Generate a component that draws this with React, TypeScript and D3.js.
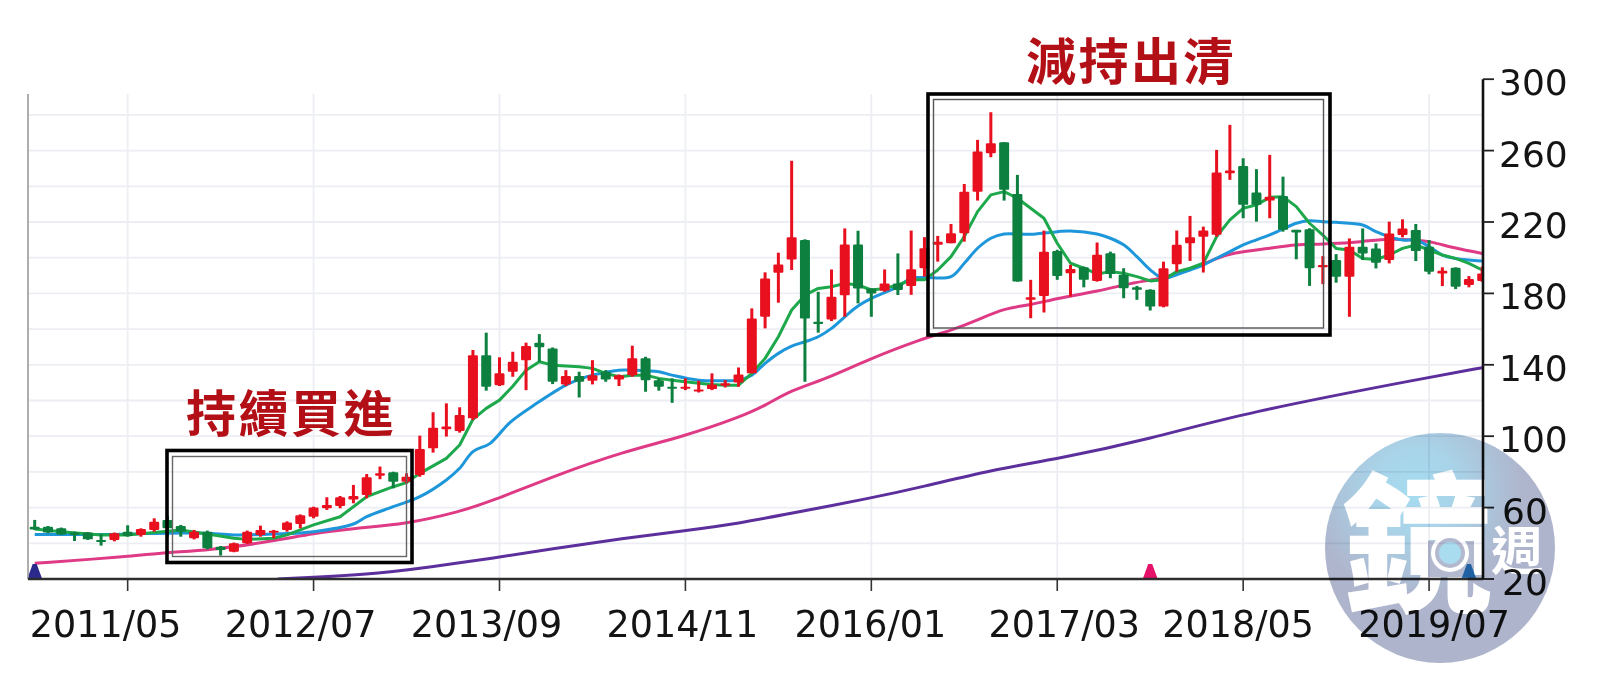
import React from "react";
import * as d3 from "d3";

const opens = [49.3,49.3,48.4,46,46,41.9,41.9,46.5,44.7,47.5,53.1,49.7,42.8,46.5,38.1,35.3,40,44.7,46,47.5,50.8,54.9,59.6,60.9,64.6,67.1,77.9,79.8,74.5,78.3,93.2,103.9,102.9,110,145.4,128.6,136.1,142.6,152.4,149.2,129,133.7,131.1,136.1,131.8,134.2,143.6,131.4,127.7,126.6,125.5,126.4,128.3,130.1,135.2,166.9,191.6,199,209.9,164.1,165.4,179,207.4,182.8,181.5,185.6,184.2,194.1,207.2,208.1,213.7,237,258.5,264.7,235.7,176.4,178.6,203.8,191.3,194.6,187,202.5,190.4,183.4,182,172.6,196.3,208.1,211.8,212.8,247.3,251.4,236.5,232,234.6,215.6,215.9,194.6,198.7,189.3,206.2,205.2,198.7,212.7,215.5,206.2,191.2,194.4,184.7,187];
const closes = [47.8,46,45,44.7,42.2,41.1,45.6,44.1,48,52.1,48.4,46.5,46.5,37.2,36.3,40,46.5,47.5,47.1,51.6,55.7,60,61.5,65.8,66.5,77,79.2,74.5,77.3,92.8,104.8,105.4,111.9,145.4,127.7,135.2,141.7,150.5,149.8,130.5,133.7,130.5,134.2,131.8,134.2,143.6,131.4,127.7,126.6,127.7,126.2,129,129.6,134.6,166,188.4,196.2,211.4,166,162.8,178.1,207.4,182.8,180,185.6,181.9,193.5,205.3,209,213.7,237,259.5,264.1,238,186.6,177.8,203.4,189.8,193.7,187.6,201.6,190.9,182.9,182,172.6,194.1,207.2,211.5,215.2,247.7,248.8,229.6,229.6,234.2,215.6,214.1,194.1,195.9,189.3,206.2,202.4,197.2,213.6,216.4,203.7,192.1,192.7,183.7,188,191.2];
const highs = [53.1,49.7,48.8,46.5,46.3,45.2,46,50.1,48.4,54,55.3,50.3,47.5,47.1,38.5,40.4,47.1,49.9,47.5,52.3,56.2,60.5,65.8,66.5,72.7,78.8,83,80.1,79.2,100.3,113.4,118.4,116.2,148.3,158,144.2,147.3,152.4,157.2,149.7,137,136.1,142.6,137,134.6,150.7,144.5,132.4,132.4,132.4,131.1,135.2,131.4,138.5,171.6,191.8,202.8,254.3,210.3,180.9,193.4,216.4,215.1,182.8,193.4,202.4,215.2,211.5,212.2,218.9,241.3,266,281.5,264.7,246.4,187.6,215.2,204.4,196,195,208.5,203.4,194.1,184.2,182.3,197.8,215.2,223.4,217.4,260.4,274.4,255.7,249.6,257.6,245.4,215.6,216.5,200.9,202,210.8,216.4,208,220.2,221.5,218.9,209.9,194.6,194.6,189.7,195];
const lows = [47.5,45.6,44.7,41.3,41.9,38.7,41.1,43.7,43.7,46.5,43.7,43.7,42.2,36.6,33.1,35,39.6,43.7,42.8,46.5,48.4,54,58.7,59.6,62.4,65.2,75.9,70.8,73.6,77.3,90.8,99.8,102,109,125.5,128.1,133.3,125.8,141.7,129.2,128.1,121.7,129,130.5,128.1,133.3,124.9,125.5,118.7,125.8,124.5,125.8,127.3,127.7,135.2,160.4,174.8,193.1,130.5,158,164.5,166.9,174.4,166.9,180.9,179.1,179.2,189.4,197.8,208.1,209,232,256.3,232,186.6,166.1,169.3,187.6,178.2,183.4,186.6,188.5,177.3,176.4,170.4,172.2,192.2,198.2,191.7,211.8,243.6,222.1,220.2,222.1,214.6,199.1,184.2,185.2,186,166.9,198.7,194,196.8,211.4,198.1,190.7,184.1,182.4,183.4,186.5];

const maShortIdx = [0,2,5,7,9,11,13,15,16,18,19,21,23,25,27,28,29,31,32,33,34,35,36,37,38,39,40,41,42,43,44,45,46,47,48,49,50,51,52,53,54,55,56,57,58,59,60,61,62,63,64,65,66,67,68,69,70,71,72,73,74,75,76,77,78,79,80,81,82,83,84,85,86,87,88,89,90,91,92,93,94,95,96,97,98,99,100,101,102,103,104,105,106,107,108,109];
const maShort = [48,46.5,44.7,44.7,46,47.5,45.2,42.8,42.2,42.8,44.7,50.3,54.9,66.1,71.7,74,79.2,87.6,95.1,109.5,115.6,120.2,128,137,141.7,139.8,139.3,138.9,138,135.2,133.3,134.2,134.2,132.4,131.4,130.5,129.6,129,128.6,128.6,135.2,143.6,155.7,170.7,179,182.8,183.7,185.6,184.7,181.9,182.8,184.7,187.6,187.6,193.1,200.6,211.8,225.8,235.2,237,233.3,227.7,222.1,208.1,196.9,194.1,190.9,192.2,191.3,189.4,187,187.6,192.2,194.1,196.9,211.8,221.2,227.7,229.6,233.8,234.2,228.6,219.3,212.7,205.2,204.3,199.6,199,201.5,205.2,207.1,204.3,201.5,199.6,196.8,193.1];
const maMidIdx = [0,5,11,13,15,18,21,24,25,27,29,31,32,33,34.3,35.8,37.8,40,41,42,44,45,47,48,50,52,53,54,55,56,57,58,59,60,61,62,63,64,65,66,67,69,70,71,72,73,75,77,78,80,81,82,83,84,85,86,87,88,89,90,91,92,93,94,95,96,97,98,100,101,102,103,104,105,106,107,108,109];
const maMid = [45,45,45.8,45.6,44.7,45.2,46.5,50.8,54.9,60.5,66.1,75.5,82,91.4,96,107.8,118.4,128.6,131.8,134.2,137,137,136.1,134.2,131.4,131.1,131.4,134.2,140.8,146.4,150.5,152.9,155.7,160.4,166.9,172.9,177.2,180.4,183.7,188.5,188.9,189.4,196.9,205.3,210.9,213.3,213.1,214.6,215,213.3,210.9,207.2,200.6,193.2,188.5,190.4,193.1,195.9,199.7,203.4,207.2,210,212.8,216.1,219.3,220.7,220.2,219.8,218.3,214.6,211.8,209.9,209.9,206.2,201.5,199.6,198.7,198.1];
const maLongIdx = [0,7,10,13,18,21,24,28,32,34.3,39.3,44.3,48.8,53.1,55.1,56.9,59.4,62.7,66.9,69,71,73,75,77,80,83,84.5,87,89,90,93,95,96.8,98,100,102,104,105,107,109];
const maLong = [28.8,32.5,35,35.9,41.3,45.6,48.4,50.8,57.7,63.3,78.3,91.3,99.7,110.6,117.5,125.6,131.5,142.8,154.8,159.2,165,171.7,173.5,177.3,181,186.6,187.6,193.1,199.7,202.5,205.3,207.5,207.5,208,209,210.8,209.9,209.3,205.2,202.4];
const maYearIdx = [18.3,25,30,34.3,39.3,44.3,48.8,53.1,56.9,62.9,66.9,72,77,84,91,105,109];
const maYear = [20,22.2,26.9,31.5,37.2,42.8,46.9,51.2,56.8,65.2,71.7,81.1,87.2,98.4,113,133,138.4];

const signalIdx = [0, 84, 108];
const signalColors = ["#2b2a8c", "#e5126a", "#2f86c8"];

const monthTickIdx = [7, 21, 35, 49, 63, 77, 91, 105];
const monthLabels = ["2011/05", "2012/07", "2013/09", "2014/11", "2016/01", "2017/03", "2018/05", "2019/07"];
const monthLabelShift = [-22, -13, -13, -3, -1, 7, -5, 5];
const priceTicks = [300, 260, 220, 180, 140, 100, 60, 20];
const gridPrices = d3.range(40, 300, 20);

const W = 1600, H = 684;
const LEFT = 28, RIGHT = 1483, TOP = 94, BOTTOM = 579;
const x = d3.scaleLinear().domain([0, 109]).range([34.7, 1482.2]);
const y = d3.scaleLinear().domain([20, 300]).range([BOTTOM, 79.2]);

const RED = "#e8101f", GREEN = "#0d7f3f";

function path(idx: number[], vals: number[], curve: d3.CurveFactory) {
  return d3.line<number>().x((i) => x(idx[i])).y((i) => y(vals[i])).curve(curve)(d3.range(idx.length)) || "";
}

export default function App() {
  return (
    <svg width={W} height={H} viewBox={`0 0 ${W} ${H}`} style={{ position: "absolute", left: 0, top: 0, display: "block", background: "#fff", filter: "blur(0.55px)" }}>
      <defs>
        <clipPath id="plot"><rect x={LEFT} y={TOP - 20} width={RIGHT - LEFT} height={BOTTOM - TOP + 20} /></clipPath>
        <radialGradient id="lens" gradientUnits="userSpaceOnUse" cx={1415} cy={490} r={125}>
          <stop offset="0" stopColor="#a6dcf0" />
          <stop offset="0.35" stopColor="#a9d3e8" />
          <stop offset="0.85" stopColor="#aeb6cd" />
          <stop offset="1" stopColor="#aeb4cb" />
        </radialGradient>
      </defs>

      <g stroke="#eceef3" strokeWidth={1.8}>
        {gridPrices.map((p) => <line key={p} x1={LEFT} x2={RIGHT} y1={y(p)} y2={y(p)} />)}
        {monthTickIdx.map((i) => <line key={i} x1={x(i)} x2={x(i)} y1={TOP} y2={BOTTOM} />)}
      </g>

      <g clipPath="url(#plot)" fill="none" strokeWidth={3} strokeLinejoin="round">
        <path d={path(maYearIdx, maYear, d3.curveBasis)} stroke="#5c2f9c" />
        <path d={path(maLongIdx, maLong, d3.curveBasis)} stroke="#de3a85" />
        <path d={path(maMidIdx, maMid, d3.curveCatmullRom)} stroke="#1e96da" />
        <path d={path(maShortIdx, maShort, d3.curveLinear)} stroke="#1ea84c" />
        {opens.map((o, i) => {
          const c = closes[i];
          const col = c >= o ? RED : GREEN;
          const top = y(Math.max(o, c));
          const h = Math.max(y(Math.min(o, c)) - top, 2);
          return (
            <g key={i}>
              <line x1={x(i)} x2={x(i)} y1={y(highs[i])} y2={y(lows[i])} stroke={col} strokeWidth={3} />
              <rect x={x(i) - 5} y={top} width={10} height={h} rx={1.2} fill={col} stroke="none" />
            </g>
          );
        })}
      </g>

      <g>
        {signalIdx.map((i, k) => (
          <path key={i} d={`M${x(i) - 7.5},${BOTTOM} L${x(i) - 2},${BOTTOM - 15} L${x(i) + 2},${BOTTOM - 15} L${x(i) + 7.5},${BOTTOM} Z`} fill={signalColors[k]} />
        ))}
      </g>

      <line x1={LEFT} x2={LEFT} y1={TOP} y2={BOTTOM} stroke="#9a9a9a" strokeWidth={1.6} />
      <line x1={LEFT} x2={RIGHT} y1={BOTTOM} y2={BOTTOM} stroke="#2e2e2e" strokeWidth={2.6} />
      <line x1={RIGHT} x2={RIGHT} y1={y(300)} y2={BOTTOM} stroke="#111" strokeWidth={2.6} />

      <g fontFamily="'DejaVu Sans', sans-serif" fill="#141414">
        {monthTickIdx.map((i, k) => (
          <g key={i}>
            <line x1={x(i)} x2={x(i)} y1={BOTTOM} y2={BOTTOM + 12} stroke="#333" strokeWidth={1.6} />
            <text x={x(i) + monthLabelShift[k]} y={637} fontSize={36.5} textAnchor="middle">{monthLabels[k]}</text>
          </g>
        ))}
        {priceTicks.map((p) => (
          <g key={p}>
            <line x1={RIGHT} x2={RIGHT + 11} y1={y(p)} y2={y(p)} stroke="#222" strokeWidth={1.8} />
            <text x={p < 100 ? 1502 : 1499} y={y(p) + 16} fontSize={36}>{p}</text>
          </g>
        ))}
      </g>

      <g fill="none">
        <rect x={167} y={450.5} width={245} height={112} stroke="#000" strokeWidth={3.6} />
        <rect x={172.5} y={456.5} width={234} height={100} stroke="#666" strokeWidth={1.4} />
        <rect x={928} y={94} width={402} height={241} stroke="#000" strokeWidth={3.6} />
        <rect x={933.5} y={99.5} width={390} height={228.5} stroke="#555" strokeWidth={1.4} />
      </g>

      <g fontFamily="'Noto Sans CJK TC', sans-serif" fontWeight={700} fill="#b30f16" fontSize={50} letterSpacing={2.5}>
        <text x={186} y={432}>持續買進</text>
        <text x={1026} y={80}>減持出清</text>
      </g>

      <g style={{ mixBlendMode: "multiply" }}>
        <circle cx={1440} cy={548} r={115} fill="url(#lens)" />
        <text x={1342} y={600} fontFamily="'Noto Sans CJK TC', sans-serif" fontWeight={900} fontSize={150} fill="#fff">鏡</text>
        <text x={1491} y={570} fontFamily="'Noto Sans CJK TC', sans-serif" fontWeight={700} fontSize={52} fill="#fff">週</text>
        <rect x={1428} y={541} width={46} height={36} fill="#b3b9cf" />
        <circle cx={1450} cy={553} r={19} fill="#fff" />
        <circle cx={1450} cy={553} r={15} fill="#b3b9cf" />
        <circle cx={1450} cy={553} r={11} fill="#a9dcef" />
      </g>
    </svg>
  );
}
